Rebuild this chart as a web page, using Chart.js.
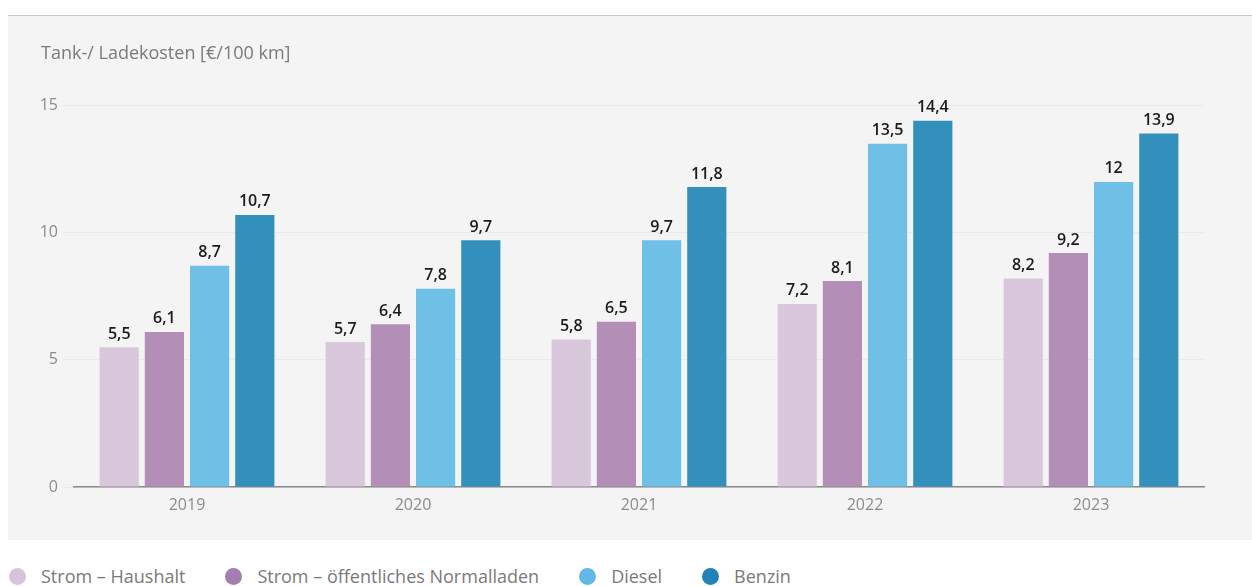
<!DOCTYPE html>
<html lang="de">
<head>
<meta charset="utf-8">
<title>Tank-/ Ladekosten</title>
<script src="https://cdn.jsdelivr.net/npm/chart.js@4.4.1/dist/chart.umd.min.js"></script>
<style>
  html, body { margin: 0; padding: 0; background: #fff; width: 1252px; height: 586px; overflow: hidden; }
  body { font-family: "Open Sans", sans-serif; position: relative; }
  #panel {
    position: absolute; left: 8px; top: 15px; width: 1244px; height: 525px;
    background: #f4f4f4; border-top: 1px solid #c9c9c9; box-sizing: border-box;
  }
  #panel canvas { display: block; }
  #legend {
    position: absolute; left: 9px; top: 564px; display: flex; gap: 40px;
    font-size: 18px; color: #7a7a7a; line-height: 24px;
  }
  #legend .item { display: flex; align-items: center; }
  #legend .dot { width: 17px; height: 17px; border-radius: 50%; margin-right: 15px; }
</style>
</head>
<body>
<div id="panel"><canvas id="kosten" width="1244" height="525"></canvas></div>
<div id="legend"></div>

<script>
// Werte in €/100 km
const years = ['2019', '2020', '2021', '2022', '2023'];
const stromHaushalt = [5.5, 5.7, 5.8, 7.2, 8.2];
const stromOeffentlich = [6.1, 6.4, 6.5, 8.1, 9.2];
const diesel = [8.7, 7.8, 9.7, 13.5, 12];
const benzin = [10.7, 9.7, 11.8, 14.4, 13.9];
const yTicks = [0, 5, 10, 15];

const seriesNames = ['Strom – Haushalt', 'Strom – öffentliches Normalladen', 'Diesel', 'Benzin'];
const barColors = ['#d9c7db', '#b38fb8', '#6fc0e7', '#3390bd'];
const dotColors = ['#d7c4db', '#a37eb0', '#62b9e8', '#2183b7'];

const fmt = v => String(v).replace('.', ',');

// Werte über den Balken
const valueLabels = {
  id: 'valueLabels',
  afterDatasetsDraw(chart) {
    const { ctx } = chart;
    ctx.save();
    ctx.font = '600 16px "Open Sans", sans-serif';
    ctx.fillStyle = '#1b1b1b';
    ctx.textAlign = 'center';
    ctx.textBaseline = 'bottom';
    chart.data.datasets.forEach((ds, i) => {
      chart.getDatasetMeta(i).data.forEach((bar, j) => {
        ctx.fillText(fmt(ds.data[j]), bar.x, bar.y - 5);
      });
    });
    ctx.restore();
  }
};

const allSeries = [stromHaushalt, stromOeffentlich, diesel, benzin];

new Chart(document.getElementById('kosten'), {
  type: 'bar',
  data: {
    labels: years,
    datasets: allSeries.map((d, i) => ({
      label: seriesNames[i],
      data: d,
      backgroundColor: barColors[i],
      categoryPercentage: 0.8,
      barPercentage: 0.867
    }))
  },
  options: {
    responsive: false,
    animation: false,
    layout: { padding: { left: 33, right: 48, top: 0, bottom: 0 } },
    plugins: {
      legend: { display: false },
      tooltip: { enabled: false },
      title: {
        display: true,
        text: 'Tank-/ Ladekosten [€/100 km]',
        align: 'start',
        color: '#7a7a7a',
        font: { family: '"Open Sans", sans-serif', size: 18, weight: 'normal' },
        padding: { top: 27, bottom: 41 }
      }
    },
    scales: {
      x: {
        grid: { display: false },
        border: { display: true, color: '#8a8a8a', width: 1.5 },
        ticks: { color: '#8c8c8c', font: { family: '"Open Sans", sans-serif', size: 16 }, padding: 1 },
        afterFit(scale) { scale.height = 54; }
      },
      y: {
        min: 0,
        max: 15,
        afterBuildTicks(scale) { scale.ticks = yTicks.map(v => ({ value: v })); },
        grid: { color: '#e9e9e9', lineWidth: 1, tickLength: 11, drawTicks: true },
        border: { display: false },
        ticks: { color: '#8c8c8c', font: { family: '"Open Sans", sans-serif', size: 16 }, padding: 5 },
        afterFit(scale) { scale.width = 33; }
      }
    }
  },
  plugins: [valueLabels]
});

// Legende
const legend = document.getElementById('legend');
seriesNames.forEach((name, i) => {
  const item = document.createElement('div');
  item.className = 'item';
  item.innerHTML = '<span class="dot" style="background:' + dotColors[i] + '"></span><span>' + name + '</span>';
  legend.appendChild(item);
});
</script>
</body>
</html>
